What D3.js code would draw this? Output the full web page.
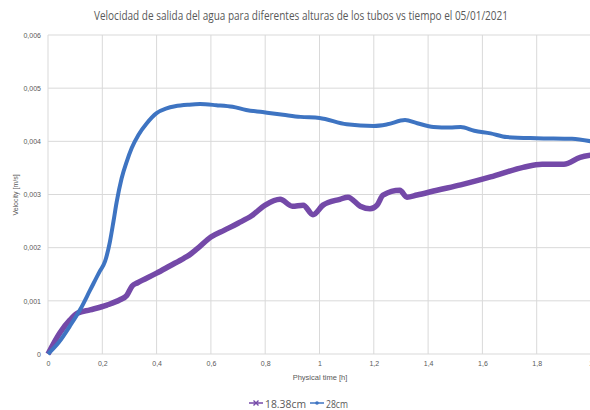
<!DOCTYPE html>
<html><head><meta charset="utf-8">
<script src="https://cdn.jsdelivr.net/npm/d3@7"></script>
<style>body{margin:0;background:#fff}svg{display:block}</style>
</head><body>
<svg id="c" width="590" height="410"></svg>
<script>
const title = "Velocidad de salida del agua para diferentes alturas de los tubos vs tiempo el 05/01/2021";
const xTicks = [0, 0.2, 0.4, 0.6, 0.8, 1, 1.2, 1.4, 1.6, 1.8, 2];
const yTicks = [0, 0.001, 0.002, 0.003, 0.004, 0.005, 0.006];
const seriesNames = ["18.38cm", "28cm"];
const t28 = [0, 0.04, 0.08, 0.12, 0.155, 0.19, 0.21, 0.228, 0.241, 0.253, 0.271, 0.29, 0.308, 0.333, 0.364, 0.4, 0.437, 0.468, 0.52, 0.56, 0.62, 0.68, 0.73, 0.79, 0.866, 0.93, 1.0, 1.1, 1.2, 1.25, 1.315, 1.36, 1.42, 1.48, 1.52, 1.57, 1.63, 1.69, 1.8, 1.93, 2.0];
const v28 = [0, 0.00022, 0.00052, 0.00085, 0.0012, 0.00155, 0.00174, 0.00211, 0.00249, 0.00286, 0.0033, 0.00362, 0.00387, 0.00412, 0.00434, 0.00453, 0.00462, 0.00466, 0.00469, 0.0047, 0.00468, 0.00465, 0.00459, 0.00455, 0.0045, 0.00446, 0.00444, 0.00432, 0.00429, 0.00432, 0.0044, 0.00434, 0.00427, 0.00426, 0.00427, 0.0042, 0.00415, 0.00408, 0.00406, 0.00405, 0.0040];
const t18 = [0, 0.044, 0.081, 0.11, 0.155, 0.217, 0.265, 0.29, 0.31, 0.33, 0.4, 0.45, 0.5, 0.52, 0.55, 0.6, 0.65, 0.7, 0.75, 0.8, 0.855, 0.9, 0.94, 0.976, 1.013, 1.075, 1.105, 1.15, 1.186, 1.212, 1.234, 1.296, 1.322, 1.359, 1.433, 1.52, 1.63, 1.75, 1.82, 1.9, 1.96, 2.0];
const v18 = [0, 0.0004, 0.00064, 0.00077, 0.00083, 0.00092, 0.00102, 0.0011, 0.00128, 0.00134, 0.00152, 0.00166, 0.0018, 0.00186, 0.00198, 0.0022, 0.00233, 0.00246, 0.0026, 0.0028, 0.00291, 0.00278, 0.0028, 0.00262, 0.0028, 0.00291, 0.00295, 0.00278, 0.00273, 0.0028, 0.00299, 0.00308, 0.00295, 0.00299, 0.00308, 0.00318, 0.00333, 0.00351, 0.00357, 0.00357, 0.0037, 0.00374];

const svg = d3.select("#c");
const x = d3.scaleLinear().domain([0, 2]).range([48, 591]);
const y = d3.scaleLinear().domain([0, 0.006]).range([354, 35]);
const grid = "#d9d9d9", txt = "#595959";
const fmtY = d => d === 0 ? "0" : d3.format(".3f")(d).replace(".", ",");
const fmtX = d => String(d).replace(".", ",");

// gridlines
svg.append("g").selectAll("line").data(yTicks).join("line")
  .attr("x1", x(0)).attr("x2", x(2)).attr("y1", d => y(d)).attr("y2", d => y(d))
  .attr("stroke", grid).attr("stroke-width", 1);
svg.append("g").selectAll("line").data(xTicks).join("line")
  .attr("x1", d => x(d)).attr("x2", d => x(d)).attr("y1", y(0)).attr("y2", y(0.006))
  .attr("stroke", grid).attr("stroke-width", 1);

// axes (labels only)
const ya = svg.append("g").attr("transform", `translate(${x(0)},0)`)
  .call(d3.axisLeft(y).tickValues(yTicks).tickFormat(fmtY).tickSize(0).tickPadding(7));
ya.select(".domain").remove();
ya.selectAll("text").attr("fill", txt).style("font", "7px 'Liberation Sans', sans-serif");
const xa = svg.append("g").attr("transform", `translate(0,${y(0)})`)
  .call(d3.axisBottom(x).tickValues(xTicks).tickFormat(fmtX).tickSize(0).tickPadding(7));
xa.select(".domain").remove();
xa.selectAll("text").attr("fill", txt).style("font", "7px 'Liberation Sans', sans-serif");

// lines
const line = d3.line().x(d => x(d[0])).y(d => y(d[1])).curve(d3.curveMonotoneX);
svg.append("path").datum(t18.map((t, i) => [t, v18[i]]))
  .attr("d", line).attr("fill", "none").attr("stroke", "#7449a8").attr("stroke-width", 5.5)
  .attr("stroke-linejoin", "round");
svg.append("path").datum(t28.map((t, i) => [t, v28[i]]))
  .attr("d", line).attr("fill", "none").attr("stroke", "#3e74c2").attr("stroke-width", 4)
  .attr("stroke-linejoin", "round");

// title
svg.append("text").attr("x", 301).attr("y", 20).attr("text-anchor", "middle")
  .attr("fill", txt).attr("textLength", 414).attr("lengthAdjust", "spacingAndGlyphs")
  .style("font", "12px 'Open Sans', sans-serif").text(title);
// axis titles
svg.append("text").attr("transform", "translate(18,195) rotate(-90)").attr("text-anchor", "middle")
  .attr("fill", txt).style("font", "7px 'Liberation Sans', sans-serif").text("Velocity [m/s]");
svg.append("text").attr("x", 320).attr("y", 380).attr("text-anchor", "middle")
  .attr("fill", txt).style("font", "7.5px 'Liberation Sans', sans-serif").text("Physical time [h]");

// legend
const leg = [{n: seriesNames[0], c: "#7449a8", x: 249, w: 41, sym: "x"}, {n: seriesNames[1], c: "#3e74c2", x: 310, w: 22, sym: "o"}];
const lg = svg.append("g");
leg.forEach(l => {
  lg.append("line").attr("x1", l.x).attr("x2", l.x + 14).attr("y1", 403).attr("y2", 403)
    .attr("stroke", l.c).attr("stroke-width", 1.5);
  if (l.sym === "x") {
    lg.append("path").attr("d", `M${l.x+4.5},400.5L${l.x+9.5},405.5M${l.x+4.5},405.5L${l.x+9.5},400.5`)
      .attr("stroke", l.c).attr("stroke-width", 1.3);
  } else {
    lg.append("circle").attr("cx", l.x + 7).attr("cy", 403).attr("r", 1.8).attr("fill", l.c);
  }
  lg.append("text").attr("x", l.x + 16).attr("y", 407.5).attr("fill", txt)
    .attr("textLength", l.w).attr("lengthAdjust", "spacingAndGlyphs")
    .style("font", "11.5px 'Open Sans', sans-serif").text(l.n);
});
</script>
</body></html>
